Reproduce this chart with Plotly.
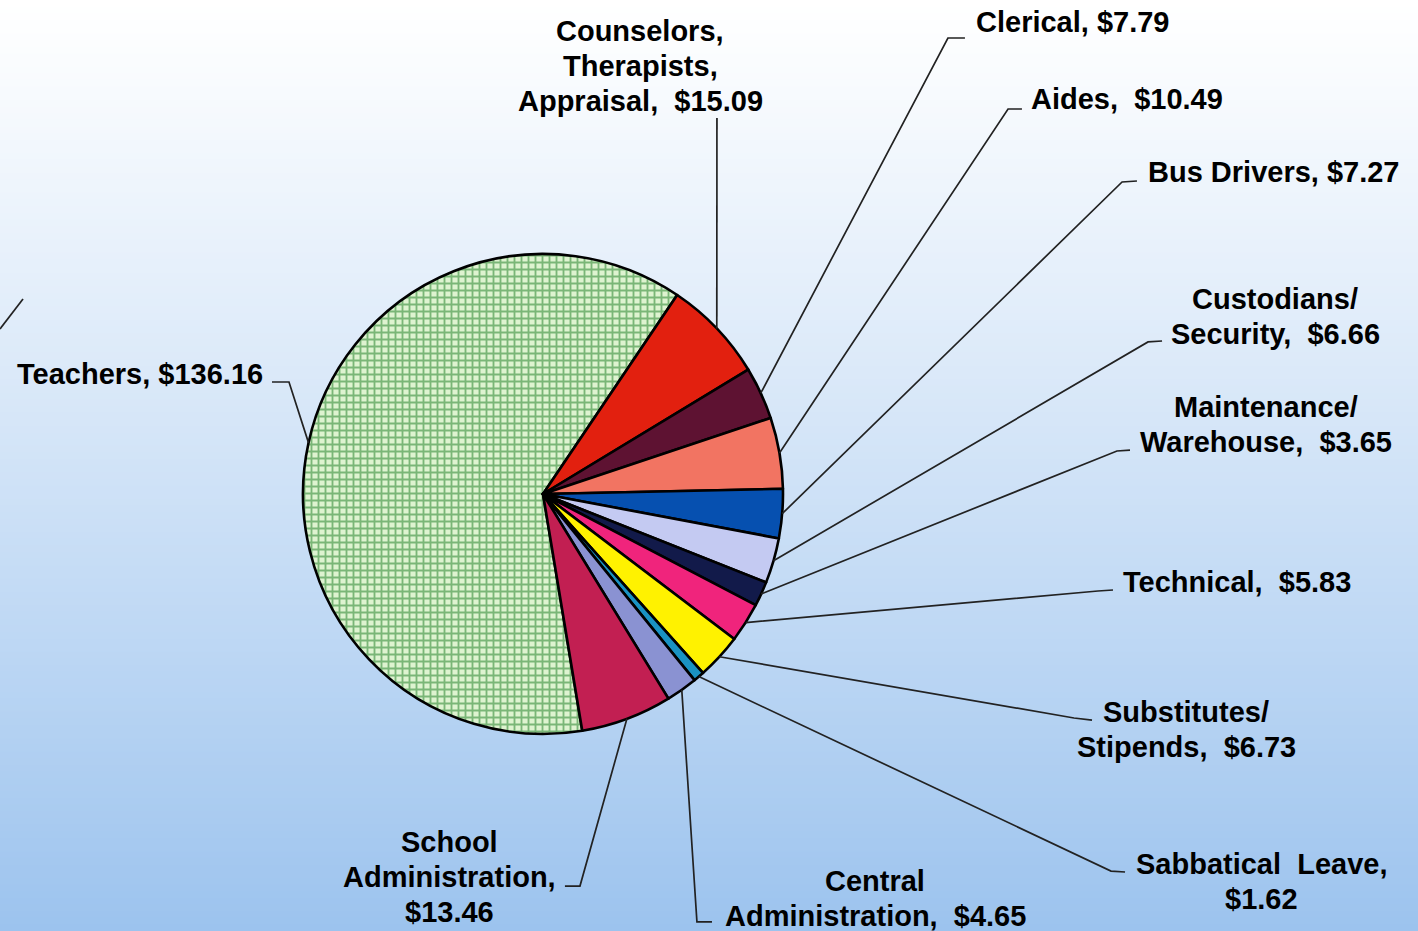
import math
import plotly.graph_objects as go

W, H = 1418, 931

# Per-pupil spending by staff category (dollars)
categories = [
    "Teachers", "Counselors, Therapists, Appraisal", "Clerical", "Aides",
    "Bus Drivers", "Custodians/ Security", "Maintenance/ Warehouse", "Technical",
    "Substitutes/ Stipends", "Sabbatical Leave", "Central Administration",
    "School Administration",
]
values = [136.16, 15.09, 7.79, 10.49, 7.27, 6.66, 3.65, 5.83, 6.73, 1.62, 4.65, 13.46]

# Label layouts ({v} is replaced with the formatted value)
label_fmt = [
    "Teachers, {v}",
    "Counselors,<br>Therapists,<br>Appraisal,\u00a0 {v}",
    "Clerical, {v}",
    "Aides,\u00a0 {v}",
    "Bus Drivers, {v}",
    "Custodians/<br>Security,\u00a0 {v}",
    "Maintenance/<br>Warehouse,\u00a0 {v}",
    "Technical,\u00a0 {v}",
    "Substitutes/<br>Stipends,\u00a0 {v}",
    "Sabbatical\u00a0 Leave,<br>{v}",
    "Central<br>Administration,\u00a0 {v}",
    "School<br>Administration,<br>{v}",
]

colors = ["#def3d0", "#e2200f", "#5e1232", "#f27462", "#0650b0", "#c4caf2",
          "#121a4a", "#f0247c", "#fff200", "#1a92c2", "#8a92d2", "#c21f52"]
patterns = ["+", "", "", "", "", "", "", "", "", "", "", ""]

# Pie geometry in pixels
CX, CY, R = 543, 494, 240
# Teachers slice ends this many degrees clockwise from 12 o'clock
teachers_end = 34.0
total = sum(values)
rotation = teachers_end - values[0] / total * 360.0
LINE_GAP = 35  # pixel spacing between label lines


def px(x):
    return x / W


def py(y):
    return 1 - y / H


fig = go.Figure()
fig.add_trace(go.Pie(
    labels=categories,
    values=values,
    sort=False,
    direction="clockwise",
    rotation=rotation,
    textinfo="none",
    hoverinfo="label+value",
    showlegend=False,
    marker=dict(
        colors=colors,
        line=dict(color="#000000", width=2.6),
        pattern=dict(shape=patterns, fgcolor="#157a1d", size=7,
                     solidity=0.46, fillmode="overlay"),
    ),
    domain=dict(x=[px(CX - R), px(CX + R)], y=[py(CY + R), py(CY - R)]),
))

# Label anchor: (x, y, xanchor) in pixels; y is the middle of the text block
label_pos = [
    (15, 374, "left"),
    (640, 66, "center"),
    (974, 22, "left"),
    (1029, 99, "left"),
    (1146, 172, "left"),
    (1275, 316, "center"),
    (1266, 424, "center"),
    (1121, 582, "left"),
    (1186, 729, "center"),
    (1261, 881, "center"),
    (875, 898, "center"),
    (449, 877, "center"),
]

# Leader line elbows: list of pixel points from the label side toward the pie
leader_pts = [
    [(272, 382), (289, 382)],
    [(717, 118)],
    [(965, 38), (948, 38)],
    [(1022, 109), (1008, 109)],
    [(1137, 181), (1122, 182)],
    [(1162, 341), (1148, 342)],
    [(1130, 450), (1117, 451)],
    [(1113, 590), (1098, 591)],
    [(1092, 720), (1074, 718)],
    [(1125, 872), (1111, 871)],
    [(712, 922), (697, 922)],
    [(565, 886), (580, 886)],
]

annotations = []
shapes = []

# Background: vertical gradient from white to light blue.  Each band runs
# down to the bottom edge so that the next band covers it without seams.
N = 140
top = (255, 255, 255)
bot = (156, 195, 238)
for i in range(N):
    t = ((i + 0.5) / N) ** 1.1
    c = tuple(round(top[k] + (bot[k] - top[k]) * t) for k in range(3))
    shapes.append(dict(
        type="rect", xref="paper", yref="paper", layer="below",
        x0=0, x1=1, y0=0, y1=1 - i / N,
        fillcolor="rgb(%d,%d,%d)" % c, line=dict(width=0),
    ))

label_font = dict(family="Liberation Sans, Arial, sans-serif", size=29,
                  color="#000000", weight="bold")

# Leader lines from each label to the middle of its slice on the rim
cum = 0.0
for i, v in enumerate(values):
    mid = rotation + (cum + v / 2) / total * 360.0
    cum += v
    a = math.radians(mid)
    ex, ey = CX + R * math.sin(a), CY - R * math.cos(a)
    pts = leader_pts[i] + [(ex, ey)]
    path = "M " + " L ".join("%.4f,%.4f" % (px(x), py(y)) for x, y in pts)
    shapes.append(dict(type="path", xref="paper", yref="paper", path=path,
                       line=dict(color="#222222", width=1.7), layer="above"))

    lx, ly, xa = label_pos[i]
    lines = label_fmt[i].format(v="$%.2f" % v).split("<br>")
    n = len(lines)
    for j, line in enumerate(lines):
        annotations.append(dict(
            x=px(lx), y=py(ly + (j - (n - 1) / 2) * LINE_GAP),
            xref="paper", yref="paper",
            xanchor=xa, yanchor="middle", showarrow=False,
            text=line, font=label_font,
        ))

# Stray leader line fragment at the left edge
shapes.append(dict(type="line", xref="paper", yref="paper",
                   x0=px(0), y0=py(329), x1=px(23), y1=py(299),
                   line=dict(color="#222222", width=1.7)))

fig.update_layout(
    width=W, height=H,
    margin=dict(l=0, r=0, t=0, b=0),
    paper_bgcolor="#ffffff",
    plot_bgcolor="rgba(0,0,0,0)",
    shapes=shapes,
    annotations=annotations,
)

fig.write_html("out.html")
